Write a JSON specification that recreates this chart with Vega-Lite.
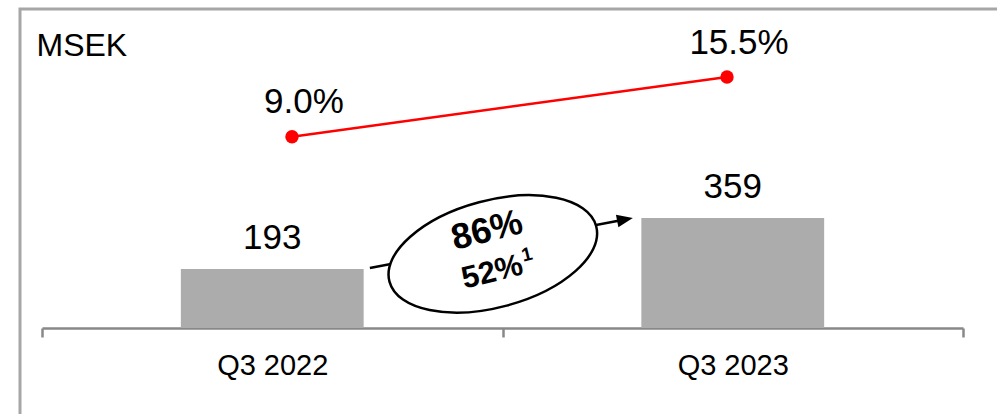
{
  "$schema": "https://vega.github.io/schema/vega-lite/v6.json",
  "width": 980,
  "height": 408,
  "autosize": {"type": "none"},
  "padding": {"left": 20, "top": 9, "right": -3, "bottom": -3},
  "background": "white",
  "config": {
    "view": {"stroke": "#a6a6a6", "strokeWidth": 3},
    "font": "Liberation Sans",
    "axis": {"grid": false}
  },
  "datasets": {
    "quarters": [
      {"quarter": "Q3 2022", "value": 193, "margin": 0.09},
      {"quarter": "Q3 2023", "value": 359, "margin": 0.155}
    ],
    "growth": [
      {"x": 0.979, "y": 242, "growth": "86%", "growth_adjusted": "52%", "footnote": "1"}
    ],
    "arrow": [
      {"x": 0.712, "y": 196, "x2": 1.266, "y2": 354.6}
    ]
  },
  "resolve": {
    "scale": {"x": "independent", "y": "independent"},
    "axis": {"x": "independent", "y": "independent"}
  },
  "layer": [
    {
      "data": {"name": "quarters"},
      "encoding": {
        "x": {
          "field": "quarter",
          "type": "nominal",
          "sort": null,
          "scale": {"type": "band", "domain": ["Q3 2022", "Q3 2023"], "range": [22, 943], "paddingInner": 0, "paddingOuter": 0},
          "axis": {
            "title": null,
            "orient": "bottom",
            "offset": -89,
            "tickBand": "extent",
            "domainColor": "#888888",
            "domainWidth": 2.5,
            "tickColor": "#888888",
            "tickWidth": 2.5,
            "tickSize": 9,
            "labelFontSize": 29,
            "labelColor": "black",
            "labelFont": "Liberation Sans",
            "labelPadding": 37,
            "labelBaseline": "alphabetic",
            "labelAngle": 0,
            "grid": false
          }
        },
        "y": {
          "field": "value",
          "type": "quantitative",
          "scale": {"domain": [0, 1042], "range": [319, 0], "nice": false},
          "axis": {
            "title": "MSEK",
            "orient": "left",
            "domain": false,
            "ticks": false,
            "labels": false,
            "grid": false,
            "titleAngle": 0,
            "titleX": 16,
            "titleY": 46,
            "titleAlign": "left",
            "titleBaseline": "alphabetic",
            "titleFontSize": 32,
            "titleFontWeight": "normal",
            "titleColor": "black",
            "titleFont": "Liberation Sans"
          }
        }
      },
      "layer": [
        {"mark": {"type": "bar", "width": {"band": 0.397}, "color": "#acacac"}},
        {
          "mark": {"type": "text", "dy": -20, "baseline": "alphabetic", "fontSize": 35, "color": "black", "font": "Liberation Sans"},
          "encoding": {"text": {"field": "value", "type": "quantitative"}}
        }
      ]
    },
    {
      "data": {"name": "quarters"},
      "encoding": {
        "x": {
          "field": "quarter",
          "type": "nominal",
          "sort": null,
          "scale": {"type": "band", "domain": ["Q3 2022", "Q3 2023"], "range": [54.5, 924.5], "paddingInner": 0, "paddingOuter": 0},
          "axis": null
        },
        "y": {
          "field": "margin",
          "type": "quantitative",
          "scale": {"domain": [0.09, 0.155], "range": [127.7, 68], "zero": false, "nice": false},
          "axis": null
        }
      },
      "layer": [
        {"mark": {"type": "line", "color": "#ff0000", "strokeWidth": 2.5}},
        {"mark": {"type": "point", "filled": true, "opacity": 1, "color": "#ff0000", "size": 180}},
        {
          "mark": {"type": "text", "dx": 12, "dy": -23.5, "baseline": "alphabetic", "fontSize": 35, "color": "black", "font": "Liberation Sans"},
          "encoding": {"text": {"field": "margin", "type": "quantitative", "format": ".1%"}}
        }
      ]
    },
    {
      "encoding": {
        "x": {"field": "x", "type": "quantitative", "scale": {"domain": [0, 2], "range": [22, 943], "nice": false, "zero": false}, "axis": null},
        "y": {"field": "y", "type": "quantitative", "scale": {"domain": [0, 1042], "range": [319, 0], "nice": false}, "axis": null}
      },
      "layer": [
        {
          "data": {"name": "arrow"},
          "mark": {"type": "rule", "color": "black", "strokeWidth": 2.5},
          "encoding": {"x2": {"field": "x2"}, "y2": {"field": "y2"}}
        },
        {
          "data": {"name": "arrow"},
          "mark": {"type": "point", "shape": "M1,0L-1,-0.8L-1,0.8Z", "filled": true, "color": "black", "opacity": 1, "size": 256, "angle": -11},
          "encoding": {
            "x": {"field": "x2", "type": "quantitative"},
            "y": {"field": "y2", "type": "quantitative"}
          }
        },
        {
          "data": {"name": "growth"},
          "mark": {"type": "point", "shape": "M-1,0A1,0.5,0,1,1,1,0A1,0.5,0,1,1,-1,0Z", "filled": true, "fill": "white", "stroke": "black", "strokeWidth": 2.5, "opacity": 1, "fillOpacity": 1, "size": 45796, "angle": -15}
        },
        {
          "data": {"name": "growth"},
          "mark": {"type": "text", "angle": -14, "dy": -24, "baseline": "middle", "fontSize": 36, "fontWeight": "bold", "color": "black", "font": "Liberation Sans"},
          "encoding": {"text": {"field": "growth"}}
        },
        {
          "data": {"name": "growth"},
          "mark": {"type": "text", "angle": -14, "dx": -5, "dy": 18, "baseline": "middle", "fontSize": 31, "fontWeight": "bold", "color": "black", "font": "Liberation Sans"},
          "encoding": {"text": {"field": "growth_adjusted"}}
        },
        {
          "data": {"name": "growth"},
          "mark": {"type": "text", "angle": -14, "dx": 33, "dy": 9, "baseline": "middle", "fontSize": 19, "fontWeight": "bold", "color": "black", "font": "Liberation Sans"},
          "encoding": {"text": {"field": "footnote"}}
        }
      ]
    }
  ]
}
